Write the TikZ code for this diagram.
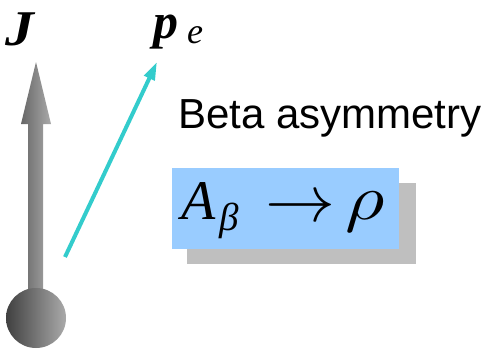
\documentclass[tikz,border=0pt]{standalone}
\usepackage{fontspec}
\setmainfont{Liberation Sans}
\newfontfamily\timesfont{Liberation Serif}
\usetikzlibrary{arrows.meta}
\definecolor{BoxBlue}{RGB}{153,204,255}
\definecolor{ShadowGray}{RGB}{191,191,191}
\definecolor{MomCyan}{RGB}{51,204,204}
\definecolor{SpinDark}{RGB}{64,64,64}
\definecolor{SpinLight}{RGB}{170,170,170}
\begin{document}
\begin{tikzpicture}[x=1pt,y=-1pt,
  vecsym/.style={inner sep=0pt,anchor=base west,font=\timesfont\bfseries\itshape\fontsize{50}{54}\selectfont},
  formula/.style={inner sep=0pt,anchor=base west,font=\timesfont\itshape\fontsize{56}{60}\selectfont}]
\useasboundingbox (0,0) rectangle (487,351);
% spin J
\shade[left color=SpinDark!80!white,right color=SpinLight] (28,290)--(28,124)--(21,124)--(36,62)--(51,124)--(43,124)--(43,290)--cycle;
\node[circle,minimum size=60pt,inner sep=0pt,left color=SpinDark,right color=SpinLight] (nucleus) at (36,318) {};
\node[vecsym] (J) at (5,45) {\scalebox{1.15}[1]{J}};
% electron momentum
\coordinate (estart) at (65,257);
\coordinate (etip) at (157,62);
\draw[MomCyan,line width=4pt,-{Triangle[length=18pt,width=11pt]}] (estart)--(etip);
\node[vecsym] (p) at (153,38) {p};
\node[formula,font=\timesfont\itshape\fontsize{36}{38}\selectfont] (e) at (187,43) {e};
% text
\node[anchor=base west,inner sep=0pt,font=\fontsize{42}{46}\selectfont] (title) at (178,128) {Beta asymmetry};
\fill[ShadowGray] (187,183) rectangle (416,264);
\node[fill=BoxBlue,minimum width=227pt,minimum height=81pt,inner sep=0pt,anchor=north west] (asym) at (172,168) {};
\node[formula] (A) at (181,219) {A};
\node[formula,font=\timesfont\itshape\fontsize{39}{42}\selectfont] (beta) at (219,230) {β};
\node[formula,font=\fontsize{10}{12}\selectfont] (arrow) at (265,221) {\scalebox{7}[6.6]{$\rightarrow$}};
\node[formula,font=\fontsize{10}{12}\selectfont] (rho) at (345,219) {\scalebox{7.6}[6.4]{$\rho$}};
\end{tikzpicture}
\end{document}
